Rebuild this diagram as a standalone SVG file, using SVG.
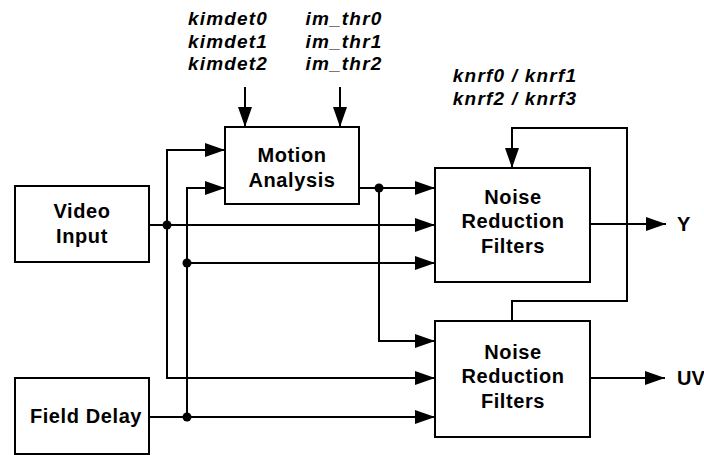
<svg xmlns="http://www.w3.org/2000/svg" width="704" height="455" viewBox="0 0 704 455">
<defs>
<marker id="arr" markerUnits="userSpaceOnUse" markerWidth="20" markerHeight="14" refX="20" refY="7" orient="auto">
<path d="M0,0 L20,7 L0,14 z" fill="#000"/>
</marker>
<style>
.box{fill:#fff;stroke:#000;stroke-width:2}
.lbl{font-family:"Liberation Sans",Arial,sans-serif;font-weight:bold;font-size:20px;letter-spacing:0.6px;text-anchor:middle;fill:#000}
.par{font-family:"Liberation Sans",Arial,sans-serif;font-weight:bold;font-style:italic;font-size:19px;letter-spacing:1.2px;text-anchor:middle;fill:#000}
.out{font-family:"Liberation Sans",Arial,sans-serif;font-weight:bold;font-size:20px;fill:#000}
.ln{fill:none;stroke:#000;stroke-width:2}
.arw{fill:none;stroke:#000;stroke-width:2;marker-end:url(#arr)}
.dot{fill:#000}
</style>
</defs>
<rect width="704" height="455" fill="#fff"/>

<g id="connectors">
<line class="arw" x1="245" y1="87" x2="245" y2="127"/>
<line class="arw" x1="340" y1="87" x2="340" y2="127"/>
<line class="arw" x1="149" y1="225" x2="435" y2="225"/>
<path class="ln" d="M167,150 V378"/>
<line class="arw" x1="166" y1="150" x2="225" y2="150"/>
<line class="arw" x1="166" y1="378" x2="435" y2="378"/>
<line class="arw" x1="149" y1="417" x2="435" y2="417"/>
<path class="ln" d="M187,417 V188"/>
<line class="arw" x1="186" y1="188" x2="225" y2="188"/>
<line class="arw" x1="187" y1="263" x2="435" y2="263"/>
<line class="arw" x1="359" y1="188" x2="435" y2="188"/>
<path class="arw" d="M379,188 V341 H435"/>
<line class="arw" x1="590" y1="224" x2="666" y2="224"/>
<line class="arw" x1="590" y1="378" x2="665" y2="378"/>
<path class="arw" d="M512,321 V301 H627 V128 H512 V168"/>
<circle class="dot" cx="167" cy="225" r="4.5"/>
<circle class="dot" cx="187" cy="263" r="4.5"/>
<circle class="dot" cx="187" cy="417" r="4.5"/>
<circle class="dot" cx="379" cy="188" r="4.5"/>
</g>

<g id="params">
<text class="par" x="228" y="25">kimdet0</text>
<text class="par" x="228" y="47.5">kimdet1</text>
<text class="par" x="228" y="70">kimdet2</text>
<text class="par" x="344" y="25">im_thr0</text>
<text class="par" x="344" y="47.5">im_thr1</text>
<text class="par" x="344" y="70">im_thr2</text>
<text class="par" x="515" y="82">knrf0 / knrf1</text>
<text class="par" x="515" y="105">knrf2 / knrf3</text>
</g>

<g id="video-input">
<rect class="box" x="15" y="186" width="134" height="76"/>
<text class="lbl" x="82" y="218">Video</text>
<text class="lbl" x="82" y="243">Input</text>
</g>

<g id="field-delay">
<rect class="box" x="15" y="378" width="134" height="76"/>
<text class="lbl" x="86" y="423">Field Delay</text>
</g>

<g id="motion-analysis">
<rect class="box" x="225" y="127" width="134" height="77"/>
<text class="lbl" x="292" y="162">Motion</text>
<text class="lbl" x="292" y="187">Analysis</text>
</g>

<g id="nr-y">
<rect class="box" x="435" y="168" width="155" height="114"/>
<text class="lbl" x="513" y="204">Noise</text>
<text class="lbl" x="513" y="228">Reduction</text>
<text class="lbl" x="513" y="253">Filters</text>
</g>

<g id="nr-uv">
<rect class="box" x="435" y="321" width="155" height="116"/>
<text class="lbl" x="513" y="359">Noise</text>
<text class="lbl" x="513" y="383">Reduction</text>
<text class="lbl" x="513" y="408">Filters</text>
</g>

<g id="out-y">
<text class="out" x="677" y="231">Y</text>
</g>
<g id="out-uv">
<text class="out" x="677" y="385">UV</text>
</g>
</svg>
